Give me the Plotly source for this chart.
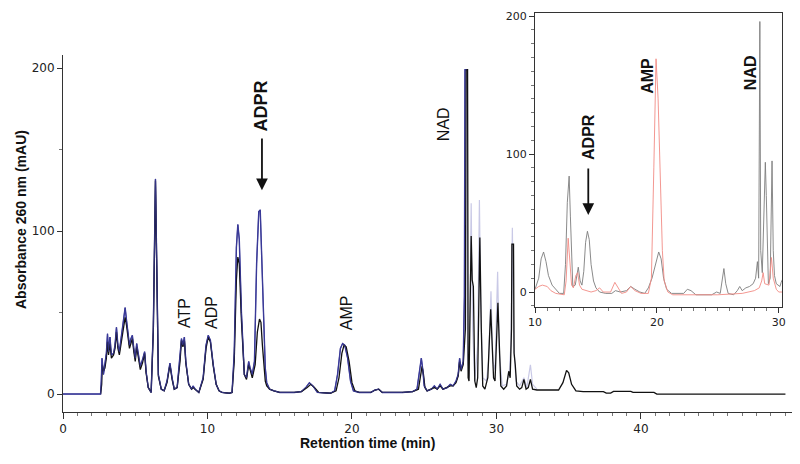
import plotly.graph_objects as go

# ---------------- main chromatogram data ----------------
blue_t = [0, 2.6, 2.65, 2.7, 2.8, 2.9, 3.0, 3.08, 3.15, 3.25, 3.35, 3.5, 3.6, 3.7, 3.8, 3.9, 4.0, 4.1, 4.2, 4.3,
          4.4, 4.5, 4.6, 4.7, 4.8, 4.9, 5.0, 5.1, 5.2, 5.35, 5.5, 5.65, 5.75, 5.9, 6.1, 6.25, 6.4, 6.5, 6.6, 6.8,
          7.0, 7.2, 7.4, 7.55, 7.7, 7.9, 8.1, 8.2, 8.3, 8.4, 8.5, 8.7, 8.9, 9.0, 9.15, 9.4, 9.7, 9.9, 10.05, 10.2,
          10.4, 10.6, 10.8, 11.0, 11.5, 11.7, 11.85, 12.0, 12.1, 12.2, 12.35, 12.55, 12.7, 12.85, 12.95, 13.1, 13.25,
          13.4, 13.55, 13.65, 13.75, 13.9, 14.0, 14.1, 14.3, 14.6, 15.0, 16.0, 16.5, 16.8, 17.05, 17.3, 17.6, 18.5,
          18.8, 19.0, 19.2, 19.35, 19.5, 19.7, 19.9, 20.1, 20.5, 21.3, 21.6, 21.85, 22.1, 23.5, 24.2, 24.5, 24.7,
          24.8, 24.9, 25.0, 25.2, 25.5, 25.7, 25.9, 26.1, 26.3, 26.6, 26.8, 27.0, 27.2, 27.35, 27.45, 27.55, 27.7,
          27.78, 27.82, 27.94]
blue_y = [0, 0, 8, 22, 12, 18, 25, 37, 26, 35, 24, 25, 30, 41, 30, 26, 33, 40, 48, 53,
          45, 38, 30, 34, 36, 28, 22, 31, 25, 17, 21, 26, 14, 4, 1, 40, 132, 60, 12, 3,
          2, 8, 19, 10, 3, 4, 22, 34, 30, 35, 20, 6, 3, 5, 3, 1, 10, 30, 36, 33,
          18, 6, 2, 1, 0.5, 1, 25, 90, 104, 95, 50, 12, 10, 20, 16, 12, 20,
          80, 112, 113, 85, 40, 16, 7, 3, 2, 1, 1, 1.5, 4, 7, 5, 1, 0.5,
          2, 12, 28, 31, 30, 22, 8, 2, 1, 1, 2.5, 3, 1, 1, 1.5, 3, 14,
          22, 15, 5, 2, 3, 5, 3, 6, 3, 4, 6, 5, 8, 12, 22, 15, 20,
          60, 199, 199]

blue_late_t = [27.94, 28.0, 28.1, 28.25, 28.35, 28.5, 28.7, 28.82, 28.9, 29.05, 29.3, 29.45, 29.62, 29.75, 29.9,
               30.08, 30.2, 30.4, 30.7, 30.9, 31.0, 31.1, 31.2, 31.35, 31.6, 31.9, 32.1, 32.35, 32.5, 32.8]
blue_late_y = [199, 20, 10, 117, 40, 8, 30, 119, 60, 10, 8, 20, 63, 20, 15,
               75, 25, 5, 6, 15, 30, 102, 30, 8, 5, 10, 4, 18, 6, 3]

black_t = [2.6, 2.68, 2.72, 2.8, 2.9, 3.0, 3.08, 3.15, 3.25, 3.35, 3.5, 3.6, 3.7, 3.8, 3.9, 4.0, 4.1, 4.2, 4.3,
           4.4, 4.5, 4.6, 4.7, 4.8, 4.9, 5.0, 5.1, 5.2, 5.35, 5.5, 5.65, 5.75, 5.9, 6.1, 6.25, 6.4, 6.5, 6.6, 6.8,
           7.0, 7.2, 7.4, 7.55, 7.7, 7.9, 8.1, 8.2, 8.3, 8.4, 8.5, 8.7, 8.9, 9.0, 9.15, 9.4, 9.7, 9.9, 10.05, 10.2,
           10.4, 10.6, 10.8, 11.0, 11.5, 11.7, 11.85, 12.0, 12.1, 12.2, 12.35, 12.55, 12.7, 12.85, 12.95, 13.1, 13.3,
           13.45, 13.6, 13.7, 13.8, 13.9, 14.0, 14.1, 14.3, 14.6, 15.0, 16.0, 16.5, 16.9, 17.15, 17.4, 17.7, 18.5,
           18.9, 19.1, 19.3, 19.45, 19.6, 19.8, 20.0, 20.2, 20.5, 21.3, 21.6, 21.85, 22.1, 23.5, 24.2, 24.6, 24.75,
           24.85, 24.95, 25.05, 25.2, 25.5, 25.7, 25.9, 26.1, 26.3, 26.6, 26.8, 27.0, 27.2, 27.35, 27.45, 27.55, 27.7,
           27.85, 27.9, 28.0, 28.04, 28.1, 28.25, 28.32, 28.4, 28.5, 28.6, 28.7, 28.85, 28.95, 29.05, 29.2,
           29.4, 29.6, 29.7, 29.8, 29.9, 30.1, 30.2, 30.3, 30.5, 30.7, 30.85, 30.95, 31.04, 31.07, 31.18, 31.22, 31.3,
           31.4, 31.6, 31.75, 31.9, 32.05, 32.2, 32.35, 32.5, 32.8, 33.5, 34.3, 34.6, 34.85, 35.0, 35.2, 35.5, 36.0,
           37.4, 37.6, 37.9, 38.1, 39.3, 39.45, 40.9, 41.1, 50.0]
black_y = [0, 6, 18, 14, 16, 22, 32, 24, 31, 22, 24, 28, 38, 28, 24, 30, 36, 42, 47,
           42, 36, 28, 31, 34, 26, 20, 29, 23, 15, 19, 25, 13, 4, 1, 38, 131, 58, 11, 3,
           2, 7, 18, 9, 3, 4, 20, 33, 29, 33, 19, 6, 3, 4, 3, 1, 9, 28, 35, 32,
           17, 6, 2, 1, 0.5, 1, 20, 70, 84, 80, 45, 12, 9, 18, 15, 10, 18,
           38, 46, 44, 30, 18, 8, 5, 3, 2, 1, 1, 1.5, 4, 6, 4, 1, 0.5,
           2, 10, 25, 30, 29, 20, 7, 2, 1, 1, 2.5, 3, 1, 1, 1.5, 3, 12,
           17, 12, 4, 2, 3, 4, 3, 5, 3, 4, 5, 5, 7, 11, 20, 14, 18,
           40, 199, 199, 10, 8, 97, 70, 66, 8, 4, 10, 96, 40, 5, 3,
           10, 52, 30, 10, 8, 56, 30, 5, 3, 5, 14, 10, 40, 92, 92, 25, 18,
           5, 3, 4, 9, 3, 4, 9, 3, 2.5, 2.5, 2.5, 7, 14.5, 13, 6, 2, 1.5,
           1.5, 0.6, 0.6, 1.6, 1.6, 1.0, 1.0, 0, 0]

# ---------------- inset data ----------------
gray_t = [10.0, 10.3, 10.5, 10.7, 10.9, 11.1, 11.4, 11.7, 12.0, 12.35, 12.5, 12.65, 12.8, 12.9, 13.0, 13.1, 13.3,
          13.45, 13.55, 13.7, 13.85, 14.0, 14.15, 14.3, 14.45, 14.6, 14.8, 15.0, 15.3, 15.8, 16.3, 16.6, 17.0, 17.5,
          17.85, 18.2, 18.6, 19.0, 19.3, 19.6, 19.9, 20.15, 20.35, 20.55, 20.8, 21.2, 22.2, 22.5, 22.8, 23.2, 24.5,
          24.9, 25.2, 25.35, 25.5, 25.65, 25.85, 26.3, 26.6, 26.8, 27.0, 27.3, 27.6, 27.9, 28.1, 28.25, 28.35, 28.45,
          28.52, 28.65, 28.75, 28.9, 28.98, 29.05, 29.15, 29.3, 29.45, 29.55, 29.65, 29.8, 30.0, 30.1, 30.2, 30.3]
gray_y = [2, 10, 24, 29, 22, 12, 5, 2, -1, -1, 20, 65, 84, 55, 20, 4, 5,
          15, 18, 8, 5, 15, 36, 44, 38, 20, 8, 3, 0, -1, -1, 1, 0, 1,
          4, 2, 0, -1, 3, 10, 20, 29, 24, 10, 2, -1, -1, 2, 1, -2, -2,
          0, -1, 8, 17, 6, -1, -2, 1, 4, 1, 3, 4, 6, 10, 22, 10, 196,
          30, 14, 40, 94, 70, 30, 6, 10, 95, 30, 12, 6, 5, 4, 7, 9]

red_t = [10.0, 10.3, 10.6, 11.0, 11.3, 11.7, 12.4, 12.55, 12.72, 12.85, 13.0, 13.15, 13.35, 13.5, 13.65, 13.85,
         14.2, 14.6, 15.0, 15.3, 15.6, 16.2, 16.55, 16.8, 17.1, 17.5, 17.85, 18.2, 18.7, 19.3, 19.55, 19.75, 19.93,
         20.1, 20.28, 20.45, 20.6, 20.9, 21.3, 23.0, 25.0, 27.0, 28.0, 28.4, 28.6, 28.72, 28.85, 29.2, 29.4, 29.55,
         29.8, 30.0, 30.3]
red_y = [2, 4, 5, 4, 1, -1, -2, 8, 39, 20, 5, 3, 12, 14, 5, 2,
         1, 0, 1, 3, 0, 0, 7, 3, -1, 0, 4, 1, -1, -1, 10, 90, 169,
         140, 90, 30, 8, 0, -2, -2, -2, -1, 1, 3, 8, 14, 6, 5, 25, 10,
         2, 0, 0]

main_xticks = [0, 10, 20, 30, 40]
main_yticks = [0, 100, 200]
inset_xticks = [10, 20, 30]
inset_yticks = [0, 100, 200]

main_labels = ["ATP", "ADP", "AMP", "NAD"]
main_label_t = [8.37, 10.24, 19.6, 26.3]
main_label_y = [49.7, 50.3, 49.7, 165.6]

inset_labels = ["AMP", "NAD"]
inset_label_t = [19.17, 27.69]
inset_label_y = [156.5, 159]

AXC = "#333333"
TICKF = dict(family="DejaVu Sans", size=12, color="#222222")

fig = go.Figure()
fig.add_trace(go.Scatter(x=blue_late_t, y=blue_late_y, mode="lines",
                         line=dict(color="#c9c9e6", width=1.2), xaxis="x", yaxis="y", hoverinfo="skip"))
fig.add_trace(go.Scatter(x=blue_t, y=blue_y, mode="lines",
                         line=dict(color="#3a3a98", width=1.4), xaxis="x", yaxis="y"))
fig.add_trace(go.Scatter(x=black_t, y=black_y, mode="lines",
                         line=dict(color="#111111", width=1.3), xaxis="x", yaxis="y"))
fig.add_trace(go.Scatter(x=blue_t, y=blue_y, mode="lines",
                         line=dict(color="#3a3a98", width=1.0), xaxis="x", yaxis="y", opacity=0.85))

fig.add_trace(go.Scatter(x=gray_t, y=gray_y, mode="lines",
                         line=dict(color="#7d7d7d", width=0.9), xaxis="x2", yaxis="y2"))
fig.add_trace(go.Scatter(x=red_t, y=red_y, mode="lines",
                         line=dict(color="#f28b85", width=0.9), xaxis="x2", yaxis="y2"))

annotations = []
for txt, t, v in zip(main_labels, main_label_t, main_label_y):
    annotations.append(dict(x=t, y=v, xref="x", yref="y", text=txt, showarrow=False, textangle=-90,
                            font=dict(family="Liberation Sans", size=16, color="#111")))
annotations.append(dict(x=13.7, y=177, xref="x", yref="y", text="<b>ADPR</b>", showarrow=False, textangle=-90,
                        font=dict(family="Liberation Sans", size=18, color="#111")))
annotations.append(dict(x=13.77, y=125, ax=13.77, ay=157.7, xref="x", yref="y", axref="x", ayref="y",
                        text="", showarrow=True, arrowhead=2, arrowsize=1.3, arrowwidth=1.8, arrowcolor="#111"))
for txt, t, v in zip(inset_labels, inset_label_t, inset_label_y):
    annotations.append(dict(x=t, y=v, xref="x2", yref="y2", text="<b>" + txt + "</b>", showarrow=False,
                            textangle=-90, font=dict(family="Liberation Sans", size=16, color="#111")))
annotations.append(dict(x=14.39, y=112, xref="x2", yref="y2", text="<b>ADPR</b>", showarrow=False, textangle=-90,
                        font=dict(family="Liberation Sans", size=16, color="#111")))
annotations.append(dict(x=14.37, y=55.8, ax=14.37, ay=90.6, xref="x2", yref="y2", axref="x2", ayref="y2",
                        text="", showarrow=True, arrowhead=2, arrowsize=1.3, arrowwidth=1.8, arrowcolor="#111"))
# axis titles
annotations.append(dict(x=-0.0572, y=0.4776, xref="paper", yref="paper", xanchor="center", yanchor="middle",
                        text="<b>Absorbance 260 nm (mAU)</b>",
                        showarrow=False, textangle=-90, font=dict(family="Liberation Sans", size=14, color="#111")))
annotations.append(dict(x=0.4155, y=-0.0771, xref="paper", yref="paper", xanchor="center", yanchor="middle",
                        text="<b>Retention time (min)</b>",
                        showarrow=False, font=dict(family="Liberation Sans", size=14, color="#111")))

# the page body adds an 8 px margin, so the figure is 8 px smaller and margins shifted accordingly
fig.update_layout(
    width=792, height=456,
    margin=dict(l=55, r=3, t=2, b=52),
    paper_bgcolor="white", plot_bgcolor="white",
    showlegend=False,
    annotations=annotations,
    xaxis=dict(domain=[0, 1], range=[0, 50.8], showline=True, linecolor=AXC, linewidth=1,
               ticks="outside", ticklen=6, tickcolor=AXC, tickmode="array", tickvals=main_xticks,
               minor=dict(tickmode="linear", tick0=0, dtick=1, ticks="outside", ticklen=3, tickcolor="#777"),
               showgrid=False, zeroline=False, tickfont=TICKF, anchor="y", automargin=False),
    yaxis=dict(domain=[0, 0.888], range=[-11, 208], showline=True, linecolor=AXC, linewidth=1,
               ticks="outside", ticklen=5, tickcolor=AXC, tickmode="array", tickvals=main_yticks,
               minor=dict(tickmode="linear", tick0=0, dtick=50, ticks="outside", ticklen=3, tickcolor="#777"),
               showgrid=False, zeroline=False, tickfont=TICKF, anchor="x", automargin=False),
    xaxis2=dict(domain=[0.6431, 0.9796], range=[10, 30.27], showline=True, mirror=True, linecolor=AXC,
                linewidth=1, ticks="outside", ticklen=5, tickcolor=AXC, tickmode="array", tickvals=inset_xticks,
                minor=dict(tickmode="linear", tick0=0, dtick=1, ticks="outside", ticklen=3, tickcolor="#777"),
                showgrid=False, zeroline=False, tickfont=dict(family="DejaVu Sans", size=11, color="#222"),
                anchor="y2", automargin=False),
    yaxis2=dict(domain=[0.2619, 0.9933], range=[-10.65, 202.4], showline=True, mirror=True, linecolor=AXC,
                linewidth=1, ticks="outside", ticklen=5, tickcolor=AXC, tickmode="array", tickvals=inset_yticks,
                minor=dict(tickmode="linear", tick0=0, dtick=10, ticks="outside", ticklen=3, tickcolor="#777"),
                showgrid=False, zeroline=False, tickfont=dict(family="DejaVu Sans", size=11, color="#222"),
                anchor="x2", automargin=False),
)

fig.write_html("out.html")
